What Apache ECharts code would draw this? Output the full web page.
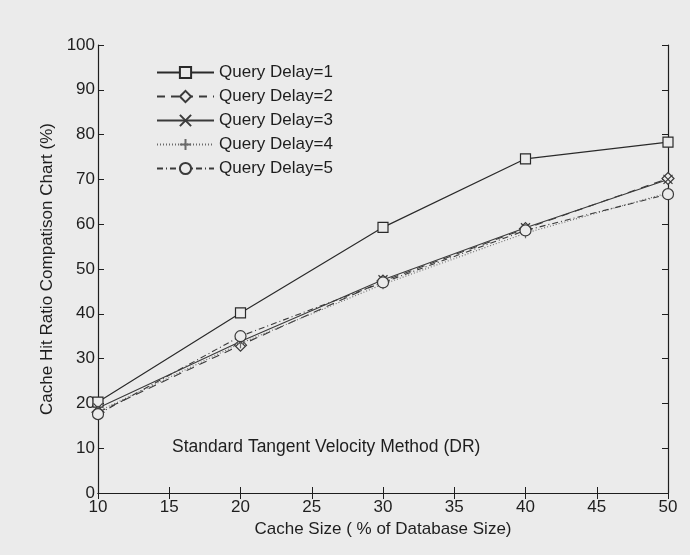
<!DOCTYPE html>
<html>
<head>
<meta charset="utf-8">
<script src="https://cdn.jsdelivr.net/npm/echarts@6/dist/echarts.min.js"></script>
<style>
  html, body { margin: 0; padding: 0; background: #ebebeb; }
  #chart { width: 690px; height: 555px; }
</style>
</head>
<body>
<div id="chart"></div>
<script>
// Cache size (% of database size)
const cacheSizes = [10, 20, 30, 40, 50];

// Cache hit ratio (%) for each query delay
const delay1 = [20.3, 40.2, 59.3, 74.6, 78.3];
const delay2 = [18.0, 33.0, 47.3, 59.0, 70.2];
const delay3 = [19.0, 33.8, 47.6, 59.2, 70.0];
const delay4 = [18.2, 33.4, 46.6, 58.0, 67.0];
const delay5 = [17.6, 35.0, 47.0, 58.6, 66.7];

const seriesNames = ['Query Delay=1', 'Query Delay=2', 'Query Delay=3', 'Query Delay=4', 'Query Delay=5'];

const xTicks = { min: 10, max: 50, interval: 5 };
const yTicks = { min: 0, max: 100, interval: 10 };

const FONT = 'Liberation Sans';
const INK = '#1e1e1e';
const BG = '#ebebeb';

// open marker outlines for the "x" and "+" series
const symbolCross = 'path://M0,0L10,10M10,0L0,10';
const symbolPlus = 'path://M0,5L10,5M5,0L5,10';

function pairs(vals) {
  return cacheSizes.map((x, i) => [x, vals[i]]);
}

function makeSeries(name, vals, symbol, size, lineType, color, width) {
  return {
    name: name,
    type: 'line',
    data: pairs(vals),
    symbol: symbol,
    symbolSize: size,
    showSymbol: true,
    lineStyle: { color: color, width: width, type: lineType },
    itemStyle: { color: BG, borderColor: color, borderWidth: 1.2 },
    emphasis: { disabled: true },
    z: 3
  };
}

function frameAxis(base, extra) {
  return Object.assign({
    type: 'value',
    min: base.min,
    max: base.max,
    interval: base.interval,
    axisLine: { show: true, lineStyle: { color: INK, width: 1.2 } },
    axisTick: { show: true, inside: true, length: 6, lineStyle: { color: INK } },
    splitLine: { show: false }
  }, extra);
}

const chart = echarts.init(document.getElementById('chart'));

chart.setOption({
  backgroundColor: BG,
  animation: false,
  grid: { left: 98, right: 22, top: 45, bottom: 62 },
  legend: {
    orient: 'vertical',
    left: 151,
    top: 59,
    itemGap: 7,
    itemWidth: 57,
    itemHeight: 14,
    textStyle: { fontFamily: FONT, fontSize: 17, color: INK },
    data: seriesNames
  },
  xAxis: [
    frameAxis(xTicks, {
      position: 'bottom',
      name: 'Cache Size ( % of Database Size)',
      nameLocation: 'middle',
      nameGap: 22,
      nameTextStyle: { fontFamily: FONT, fontSize: 17, color: INK },
      axisLabel: { fontFamily: FONT, fontSize: 17, color: INK, margin: 6 }
    }),
    frameAxis(xTicks, { position: 'top', axisLabel: { show: false } })
  ],
  yAxis: [
    frameAxis(yTicks, {
      position: 'left',
      name: 'Cache Hit Ratio Compatison Chart (%)',
      nameLocation: 'middle',
      nameGap: 42,
      nameTextStyle: { fontFamily: FONT, fontSize: 17, color: INK },
      axisLabel: { fontFamily: FONT, fontSize: 17, color: INK, margin: 3 }
    }),
    frameAxis(yTicks, { position: 'right', axisLabel: { show: false } })
  ],
  graphic: [
    {
      type: 'text',
      left: 172,
      top: 438,
      style: {
        text: 'Standard Tangent Velocity Method (DR)',
        fontFamily: FONT,
        fontSize: 17.5,
        fill: INK
      },
      z: 5
    }
  ],
  series: [
    makeSeries(seriesNames[0], delay1, 'rect', 10, 'solid', '#2a2a2a', 1.2),
    makeSeries(seriesNames[1], delay2, 'diamond', 12, [8, 6], '#3a3a3a', 1.1),
    makeSeries(seriesNames[2], delay3, symbolCross, 9, 'solid', '#3a3a3a', 1.1),
    makeSeries(seriesNames[3], delay4, symbolPlus, 10, [1, 2], '#6a6a6a', 1.1),
    makeSeries(seriesNames[4], delay5, 'circle', 11, [6, 3, 1, 3], '#3a3a3a', 1.1)
  ]
});
</script>
</body>
</html>
